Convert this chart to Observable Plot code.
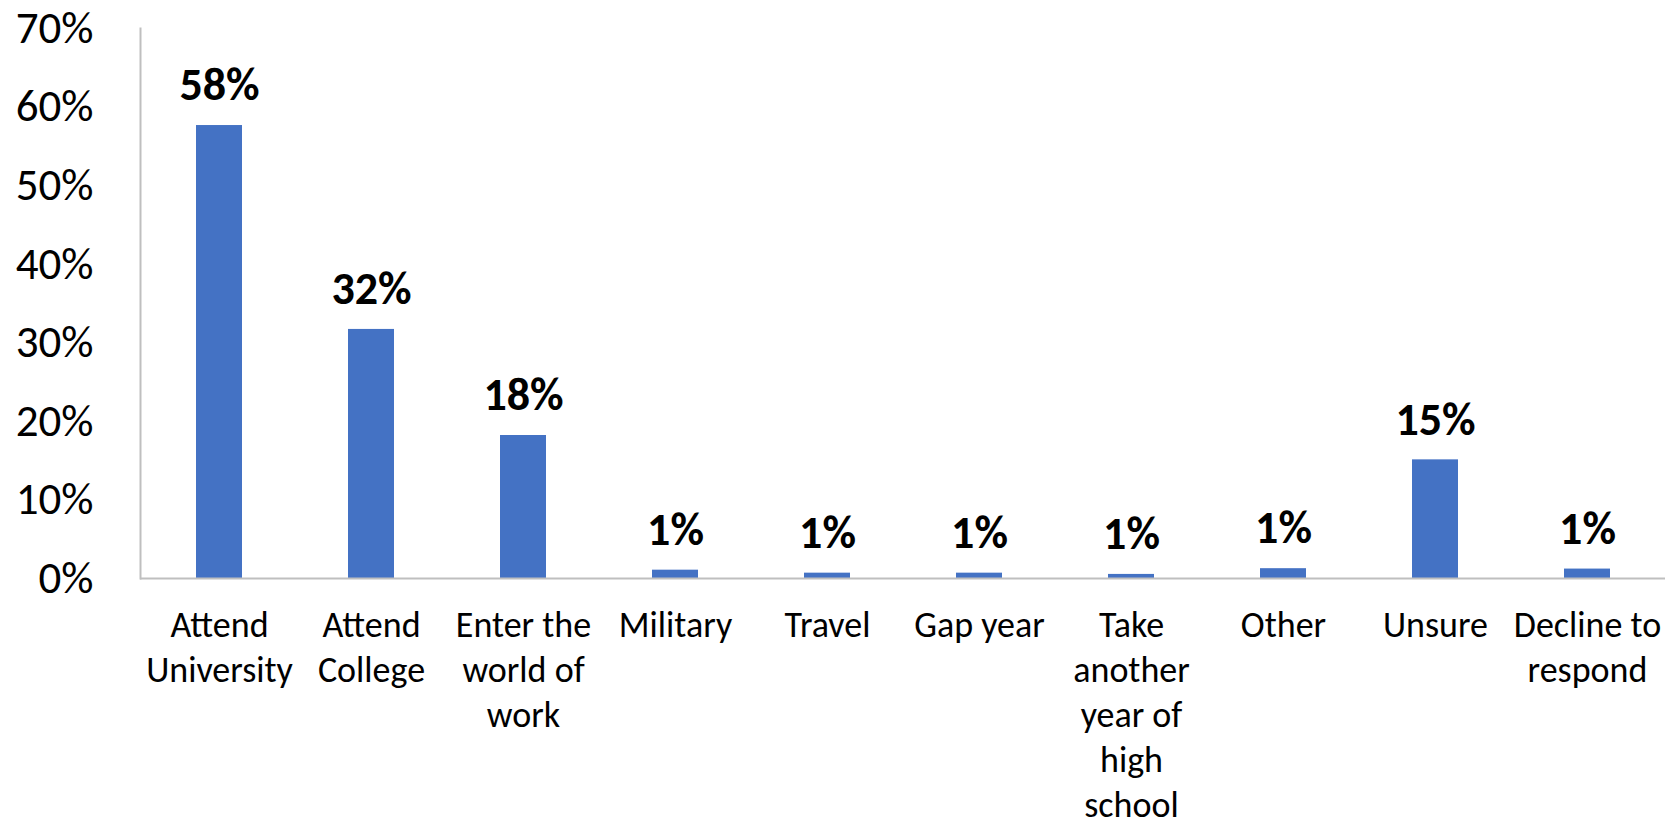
<!DOCTYPE html>
<html>
<head>
<meta charset="utf-8">
<script src="https://cdn.jsdelivr.net/npm/d3@7"></script>
<script src="https://cdn.jsdelivr.net/npm/@observablehq/plot@0.6"></script>
<style>
  html, body { margin: 0; padding: 0; background: #fff; }
  #chart svg { display: block; }
</style>
</head>
<body>
<div id="chart"></div>
<script>
const categories = ["Attend University", "Attend College", "Enter the world of work", "Military", "Travel", "Gap year", "Take another year of high school", "Other", "Unsure", "Decline to respond"];
const tickLabels = ["Attend\nUniversity", "Attend\nCollege", "Enter the\nworld of\nwork", "Military", "Travel", "Gap year", "Take\nanother\nyear of\nhigh\nschool", "Other", "Unsure", "Decline to\nrespond"];
const values = [0.5765, 0.317, 0.182, 0.0106, 0.0068, 0.0068, 0.0052, 0.0125, 0.151, 0.012];
const yTicks = [0, 0.1, 0.2, 0.3, 0.4, 0.5, 0.6, 0.7];

const data = categories.map((c, i) => ({category: c, value: values[i]}));
const labelOf = new Map(categories.map((c, i) => [c, tickLabels[i]]));
const font = "Carlito, Calibri, 'Liberation Sans Narrow', 'DejaVu Sans Condensed', sans-serif";

const chart = Plot.plot({
  width: 1671,
  height: 829,
  marginLeft: 140,
  marginRight: 6,
  marginTop: 28,
  marginBottom: 251,
  style: {fontFamily: font, fontSize: "36px", color: "#000", background: "#fff"},
  x: {domain: categories, paddingInner: 0.7, paddingOuter: 0.35, align: 0.5, label: null},
  y: {domain: [0, 0.7], label: null},
  marks: [
    Plot.barY(data, {x: "category", y: "value", fill: "#4472C4"}),
    Plot.frame({anchor: "left", stroke: "#bfbfbf", strokeWidth: 2}),
    Plot.ruleY([0], {stroke: "#bfbfbf", strokeWidth: 2}),
    Plot.axisY({ticks: yTicks, tickFormat: d3.format(".0%"), tickSize: 0, tickPadding: 47, fontSize: 45, fill: "#000", label: null}),
    Plot.axisX({tickSize: 0, tickPadding: 27, tickFormat: d => labelOf.get(d), fontSize: 36, fill: "#000", lineHeight: 1.25, textAnchor: "middle", lineAnchor: "top", label: null}),
    Plot.text(data, {x: "category", y: "value", text: d => d3.format(".0%")(d.value), dy: -40, fontSize: 46, fontWeight: "bold", fill: "#000", lineAnchor: "middle"})
  ]
});
document.getElementById("chart").appendChild(chart);
</script>
</body>
</html>
